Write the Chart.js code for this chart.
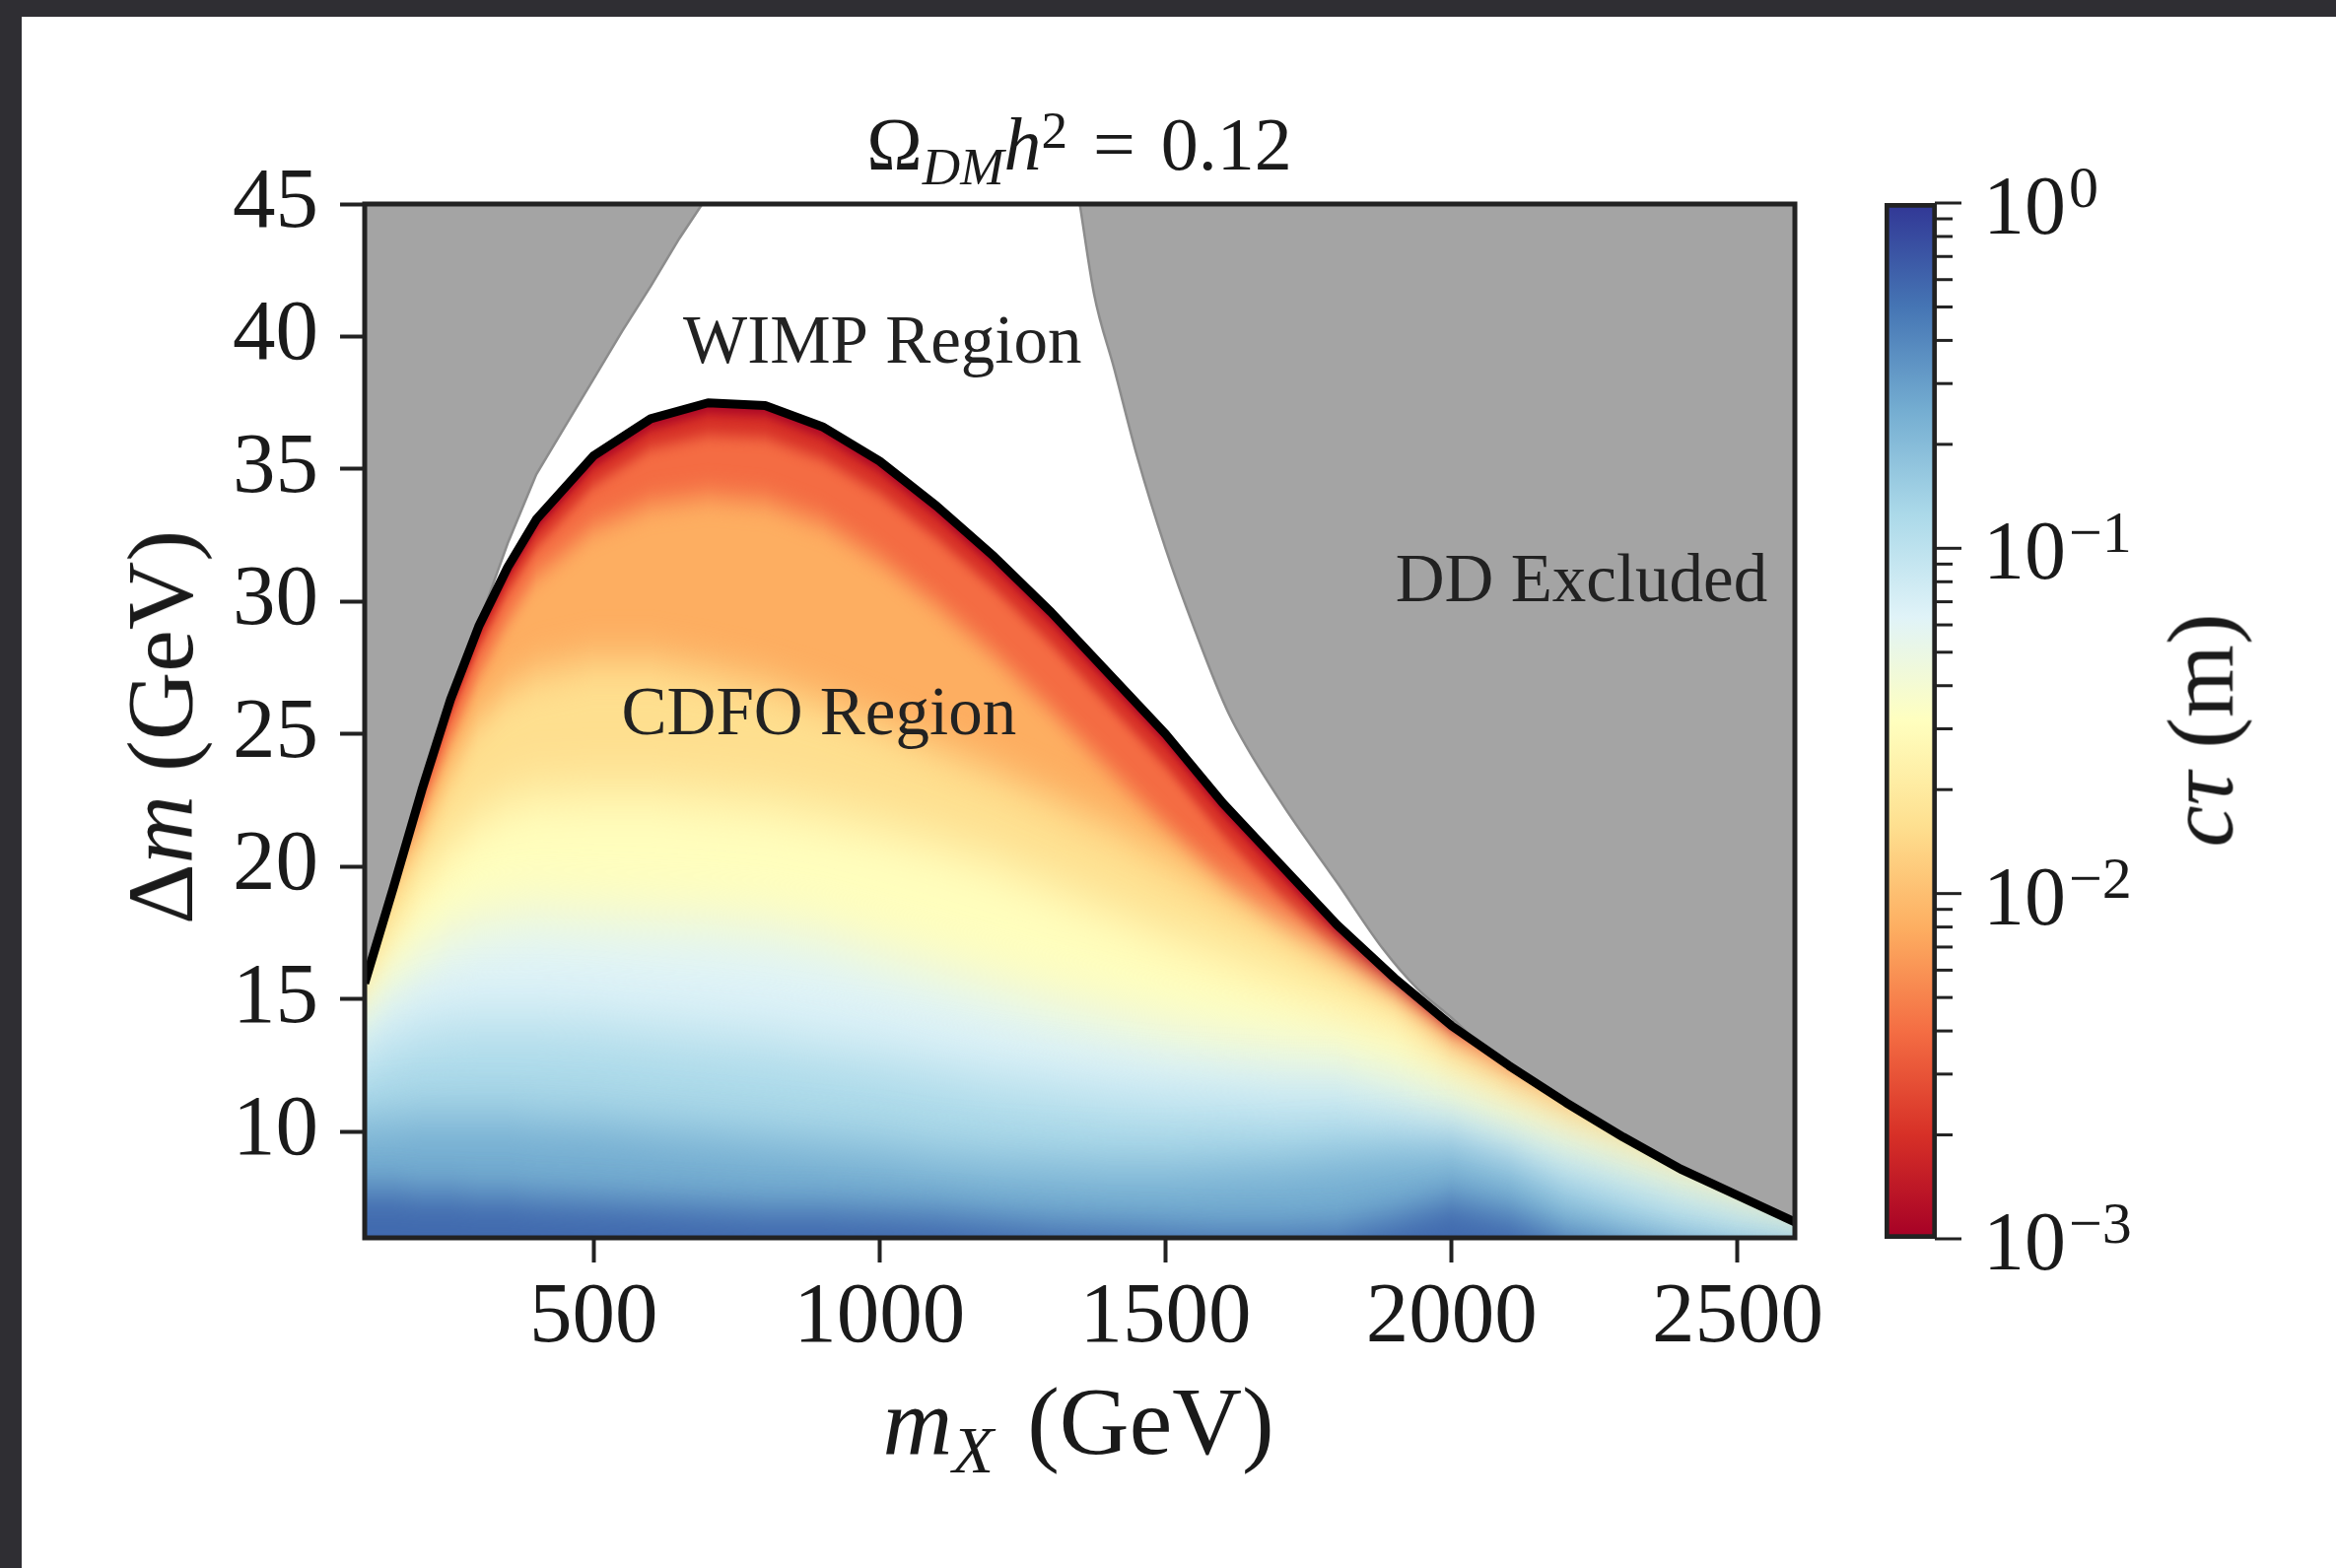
<!DOCTYPE html>
<html><head><meta charset="utf-8">
<script src="https://cdn.jsdelivr.net/npm/chart.js@4.4.1/dist/chart.umd.min.js"></script>
<style>
html,body{margin:0;padding:0;width:2370px;height:1591px;overflow:hidden;background:#2f2e33;}
#card{position:absolute;left:22px;top:17px;right:0;bottom:0;background:#fff;}
canvas{position:absolute;}
#main{left:0;top:0;width:2370px;height:1591px;}
#cbar{left:1860px;top:150px;width:510px;height:1170px;}
.lbl{position:absolute;font-family:'Liberation Serif',serif;color:#1a1a1a;white-space:nowrap;line-height:1;}
.sub{font-size:0.7em;position:relative;top:0.28em;}
.sup{font-size:0.7em;position:relative;top:-0.42em;}
</style></head>
<body>
<div id="card"></div>
<svg id="filters" width="0" height="0" style="position:absolute;left:0;top:0"><defs id="fdefs"></defs></svg>
<canvas id="main" width="2370" height="1591"></canvas>
<canvas id="cbar" width="510" height="1170"></canvas>

<div class="lbl" style="left:1095px;top:108px;font-size:76px;transform:translateX(-50%)">Ω<span class="sub"><i>DM</i></span><i>h</i><span class="sup">2</span><span style="margin:0 0.34em">=</span>0.12</div>
<div class="lbl" style="left:1094px;top:1393px;font-size:98px;transform:translateX(-50%)"><i>m</i><span class="sub" style="margin-right:0.14em"><i>X</i></span> (GeV)</div>
<div class="lbl" style="left:163px;top:738px;font-size:96px;transform:translate(-50%,-50%) rotate(-90deg)">Δ<i>m</i> (GeV)</div>
<div class="lbl" style="left:2233px;top:741px;font-size:95px;transform:translate(-50%,-50%) rotate(-90deg)"><i>cτ</i> (m)</div>

<script>
// ================= DATA =================
// dark-matter mass grid (GeV)
const MX = [100,150,200,250,300,350,400,500,600,700,800,900,1000,1100,1200,1300,1400,1500,1600,1700,1800,1900,2000,2100,2200,2300,2400,2500,2600];
// CDFO region upper boundary, Delta m (GeV) -- thick black curve
const DM_BOUNDARY = [15.6,19.2,22.9,26.3,29.1,31.3,33.1,35.5,36.9,37.5,37.4,36.6,35.3,33.6,31.7,29.6,27.3,25.0,22.4,20.1,17.8,15.8,14.0,12.5,11.1,9.8,8.6,7.6,6.6];

// c*tau iso-levels (m) and the Delta m at which each level is reached, on the MX grid
const CTAU_LEVELS = [1.4e-3, 2.8e-3, 5.6e-3, 1.1e-2, 2.2e-2, 4.5e-2, 8.9e-2, 1.8e-1, 3.5e-1];
const DM_CT_1 = [16.6,20.2,22.8,26.1,28.8,30.9,32.7,35.1,36.5,37.1,37.0,36.2,34.9,33.2,31.3,29.2,26.9,24.6,22.0,19.7,17.4,15.5,13.8,13.0,12.1,10.8,9.6,8.6,7.6];
const DM_CT_2 = [16.6,20.2,22.6,25.7,28.3,30.4,32.1,34.4,35.8,36.3,36.2,35.4,34.1,32.4,30.5,28.4,26.1,23.8,21.2,18.9,16.8,15.0,13.5,13.0,12.1,10.8,9.6,8.6,7.6];
const DM_CT_3 = [16.6,19.6,22.0,24.8,27.3,29.3,31.0,32.8,33.7,34.0,33.8,33.0,31.6,29.9,28.0,25.9,23.7,21.5,19.3,17.4,15.9,14.6,13.3,12.2,11.9,10.8,9.6,8.6,7.6];
const DM_CT_4 = [16.6,19.3,21.2,23.6,25.6,26.7,27.3,27.8,27.8,27.4,26.9,26.2,25.4,24.5,23.6,22.6,21.6,20.4,19.1,17.9,16.6,15.1,13.1,11.8,10.7,10.3,9.6,8.6,7.6];
const DM_CT_5 = [15.5,17.6,19.5,20.8,21.8,22.4,22.7,22.8,22.8,22.6,22.4,22.0,21.5,20.9,20.2,19.3,18.4,17.5,16.7,15.9,15.1,14.3,12.6,11.5,10.4,9.4,8.5,7.6,6.7];
const DM_CT_6 = [14.6,15.8,16.7,17.4,17.8,18.0,18.1,18.0,17.9,17.8,17.6,17.2,16.6,16.0,15.4,14.8,14.3,13.8,13.4,13.1,12.8,12.1,11.3,10.4,9.6,8.8,8.0,7.3,6.6];
const DM_CT_7 = [12.8,13.4,13.8,14.0,14.1,14.1,14.1,14.0,13.8,13.6,13.4,13.1,12.8,12.4,12.0,11.7,11.4,11.2,11.1,11.0,11.0,10.6,10.0,9.3,8.6,8.0,7.3,6.7,6.3];
const DM_CT_8 = [10.3,10.4,10.5,10.5,10.5,10.5,10.4,10.3,10.1,9.9,9.7,9.5,9.3,9.0,8.8,8.7,8.6,8.6,8.7,8.8,9.0,9.2,9.3,8.6,7.4,6.6,5.9,5.5,5.2];
const DM_CT_9 = [7.8,7.8,7.7,7.7,7.6,7.6,7.5,7.4,7.3,7.2,7.1,7.1,7.0,6.9,6.7,6.5,6.4,6.3,6.2,6.2,6.3,6.8,7.4,6.9,6.0,5.6,5.3,5.0,4.8];

// excluded (grey) region edges
const LEFT_EDGE_MX = [100,150,200,250,290,350,400,450,500,550,600,650,690];
const LEFT_EDGE_DM = [15.6,19.2,22.9,26.3,28.6,32.2,34.8,36.6,38.4,40.2,41.9,43.7,45.0];
const DD_EDGE_MX = [1350,1375,1410,1450,1500,1550,1610,1700,1800,1880,1940,2000,2050,2100,2200,2300,2400,2500,2600];
const DD_EDGE_DM = [45.0,41.6,38.8,35.5,32.0,29.0,25.8,22.5,19.4,16.9,15.4,14.3,13.3,12.5,11.1,9.8,8.6,7.6,6.6];

// axes
const X_TICKS = [500,1000,1500,2000,2500];
const Y_TICKS = [10,15,20,25,30,35,40,45];
const CBAR_TICKS = [1e-3,1e-2,1e-1,1];
const CBAR_TICK_EXP = ['\u22123','\u22122','\u22121','0'];
const CBAR_MIN = 1e-3, CBAR_MAX = 1;

// region annotations (text, anchor in data coordinates)
const REGION_LABELS = ['WIMP Region','CDFO Region','DD Excluded'];
const REGION_MX = [1005, 894, 2227];
const REGION_DM = [39.0, 25.0, 30.0];

// ================= STYLE =================
const FONT = "'Liberation Serif', serif";
Chart.defaults.font.family = FONT;
const RDYLBU = [[165,0,38],[215,48,39],[244,109,67],[253,174,97],[254,224,144],[255,255,191],[224,243,248],[171,217,233],[116,173,209],[69,117,180],[49,54,149]];
function cmap(t){
  t = Math.max(0, Math.min(1, t));
  const f = t*10, i = Math.min(9, Math.floor(f)), u = f - i;
  const a = RDYLBU[i], b = RDYLBU[i+1];
  return 'rgb(' + a.map((v,k)=>Math.round(v + (b[k]-v)*u)).join(',') + ')';
}
const tOf = c => (Math.log10(c) - Math.log10(CBAR_MIN)) / (Math.log10(CBAR_MAX) - Math.log10(CBAR_MIN));
const pts = (xs, ys) => xs.map((x,i)=>({x, y: ys[i]}));

const CONTOURS = [DM_CT_1,DM_CT_2,DM_CT_3,DM_CT_4,DM_CT_5,DM_CT_6,DM_CT_7,DM_CT_8,DM_CT_9];
// vertical smoothing (px) of each colour-layer edge, for the contourf-like look
const LAYER_SMOOTH = [5, 8, 14, 22, 30, 32, 32, 26, 18];
// colour offset inside each band (bottom band slightly deeper)
const BAND_SHIFT = [0.05,0.05,0.05,0.05,0.05,0.05,0.05,0.05,0.07];

(function(){
  const defs = document.getElementById('fdefs');
  let html = '';
  [...new Set(LAYER_SMOOTH.concat([5]))].forEach(s=>{
    html += `<filter id="vb${s}" filterUnits="userSpaceOnUse" x="-4000" y="-4000" width="12000" height="12000" color-interpolation-filters="sRGB"><feGaussianBlur stdDeviation="0 ${s}"/></filter>`;
  });
  defs.innerHTML = html;
})();
const URL_FILTER_OK = (function(){
  try{
    const c = document.createElement('canvas'); c.width = 20; c.height = 80;
    const x = c.getContext('2d'); x.filter = 'url(#vb5)'; x.fillStyle = '#000'; x.fillRect(0,40,20,40);
    return x.getImageData(10, 34, 1, 1).data[3] > 10;
  }catch(e){ return false; }
})();
const filterFor = s => URL_FILTER_OK ? `url(#vb${s})` : `blur(${Math.round(s*0.7)}px)`;

const datasets = [];
datasets.push({data: pts(MX, DM_BOUNDARY), borderColor:'#000', borderWidth:9, pointRadius:0, tension:0, fill:false, order:0, borderJoinStyle:'round'});
datasets.push({data: pts(DD_EDGE_MX, DD_EDGE_DM), borderColor:'#8c8c8c', borderWidth:2.5, pointRadius:0, cubicInterpolationMode:'monotone', fill:'end', backgroundColor:'#a4a4a4', order:1});
datasets.push({data: pts(LEFT_EDGE_MX, LEFT_EDGE_DM), borderColor:'#8c8c8c', borderWidth:2.5, pointRadius:0, tension:0, fill:'end', backgroundColor:'#a4a4a4', order:2});
datasets.push({heat:true, smooth:0, data: pts(MX, DM_BOUNDARY), borderColor:'rgba(0,0,0,0)', borderWidth:1, pointRadius:0, tension:0, fill:{value:0}, backgroundColor: cmap(0.02), order:30});
CONTOURS.forEach((arr,k)=>{
  datasets.push({heat:true, smooth:LAYER_SMOOTH[k], data: pts(MX, arr), borderColor:'rgba(0,0,0,0)', borderWidth:1, pointRadius:0, tension:0, fill:{value:0}, backgroundColor: cmap(tOf(CTAU_LEVELS[k]) + BAND_SHIFT[k]), order:29-k});
});

let heatActive = false;
function setupHeat(chart, meta){
  const ds = chart.data.datasets[meta.index];
  if (!ds || !ds.heat) return;
  const ctx = chart.ctx, a = chart.chartArea;
  const p0 = chart.getDatasetMeta(0).data;
  ctx.save();
  ctx.beginPath();
  p0.forEach((p,j)=> j ? ctx.lineTo(p.x,p.y) : ctx.moveTo(p.x,p.y));
  ctx.lineTo(p0[p0.length-1].x, a.bottom + 200);
  ctx.lineTo(p0[0].x, a.bottom + 200);
  ctx.closePath();
  ctx.clip();
  if (ds.smooth > 0) ctx.filter = filterFor(ds.smooth);
  heatActive = true;
}
const heatPlugin = {
  id:'heatPlugin',
  beforeDatasetsDraw(chart){
    const metas = chart.getSortedVisibleDatasetMetas();
    setupHeat(chart, metas[metas.length-1]);
  },
  afterDatasetDraw(chart, args){
    if (heatActive){ chart.ctx.restore(); heatActive = false; }
    const metas = chart.getSortedVisibleDatasetMetas();
    const i = metas.findIndex(m => m.index === args.index);
    if (i > 0) setupHeat(chart, metas[i-1]);
  }
};
const decorPlugin = {
  id:'decor',
  afterDatasetsDraw(chart){
    const {ctx, chartArea:a, scales:{x,y}} = chart;
    ctx.save();
    ctx.filter = 'none';
    ctx.font = "69px " + FONT;
    ctx.fillStyle = '#222';
    ctx.textAlign = 'center'; ctx.textBaseline = 'alphabetic';
    REGION_LABELS.forEach((t,i)=>ctx.fillText(t, x.getPixelForValue(REGION_MX[i]), y.getPixelForValue(REGION_DM[i])));
    ctx.lineWidth = 5; ctx.strokeStyle = '#222';
    ctx.strokeRect(a.left, a.top, a.right-a.left, a.bottom-a.top);
    ctx.restore();
  }
};

const tickFont = {size:87, family:FONT};
new Chart(document.getElementById('main'), {
  type:'line',
  data:{datasets},
  options:{
    responsive:false, animation:false, devicePixelRatio:1, events:[],
    layout:{padding:{left:0, top:207, right:549, bottom:0}},
    plugins:{legend:{display:false}, tooltip:{enabled:false}, title:{display:false}},
    scales:{
      x:{type:'linear', min:100, max:2600,
        afterBuildTicks: s => { s.ticks = X_TICKS.map(v=>({value:v})); },
        afterFit: s => { s.height = 335; },
        ticks:{font:tickFont, color:'#1a1a1a', padding:5, maxRotation:0, autoSkip:false, callback:v=>String(v)},
        grid:{drawOnChartArea:false, tickLength:25, tickWidth:4, tickColor:'#222'},
        border:{display:false}},
      y:{type:'linear', min:6, max:45,
        afterBuildTicks: s => { s.ticks = Y_TICKS.map(v=>({value:v})); },
        afterFit: s => { s.width = 370; },
        ticks:{font:tickFont, color:'#1a1a1a', padding:22, autoSkip:false, callback:v=>String(v)},
        grid:{drawOnChartArea:false, tickLength:25, tickWidth:4, tickColor:'#222'},
        border:{display:false}}
    }
  },
  plugins:[heatPlugin, decorPlugin]
});

// ================= colour bar =================
function cbarGradient(chart){
  const a = chart.chartArea;
  if (!a) return '#888';
  const g = chart.ctx.createLinearGradient(0, a.bottom, 0, a.top);
  RDYLBU.forEach((c,i)=>g.addColorStop(i/10, 'rgb('+c.join(',')+')'));
  return g;
}
const cbarDecor = {
  id:'cbarDecor',
  afterDatasetsDraw(chart){
    const {ctx, chartArea:a, scales:{y}} = chart;
    ctx.save();
    ctx.strokeStyle = '#222'; ctx.lineWidth = 3;
    for (let d = Math.log10(CBAR_MIN); d <= Math.log10(CBAR_MAX); d++){
      for (let m = 1; m <= 9; m++){
        const v = m * Math.pow(10, d);
        if (v > CBAR_MAX*1.0001) break;
        const py = y.getPixelForValue(v);
        const len = m === 1 ? 25 : 16;
        ctx.beginPath(); ctx.moveTo(a.right - 2, py); ctx.lineTo(a.right + len, py); ctx.stroke();
      }
    }
    ctx.fillStyle = '#1a1a1a'; ctx.textBaseline = 'alphabetic'; ctx.textAlign = 'left';
    CBAR_TICKS.forEach((v,i)=>{
      const py = y.getPixelForValue(v);
      ctx.font = "84px " + FONT;
      ctx.fillText('10', a.right + 47, py + 31);
      const w = ctx.measureText('10').width;
      ctx.font = "60px " + FONT;
      ctx.fillText(CBAR_TICK_EXP[i], a.right + 47 + w + 3, py + 4);
    });
    ctx.restore();
  }
};
new Chart(document.getElementById('cbar'), {
  type:'bar',
  data:{labels:['c\u03c4'], datasets:[{data:[[CBAR_MIN, CBAR_MAX]], backgroundColor: c => cbarGradient(c.chart), borderColor:'#222', borderWidth:5, borderSkipped:false, barPercentage:1, categoryPercentage:1}]},
  options:{
    responsive:false, animation:false, devicePixelRatio:1, events:[],
    layout:{padding:{left:52, top:56, right:405, bottom:63}},
    plugins:{legend:{display:false}, tooltip:{enabled:false}},
    scales:{x:{display:false}, y:{type:'logarithmic', display:false, min:CBAR_MIN, max:CBAR_MAX}}
  },
  plugins:[cbarDecor]
});
</script>
</body></html>
